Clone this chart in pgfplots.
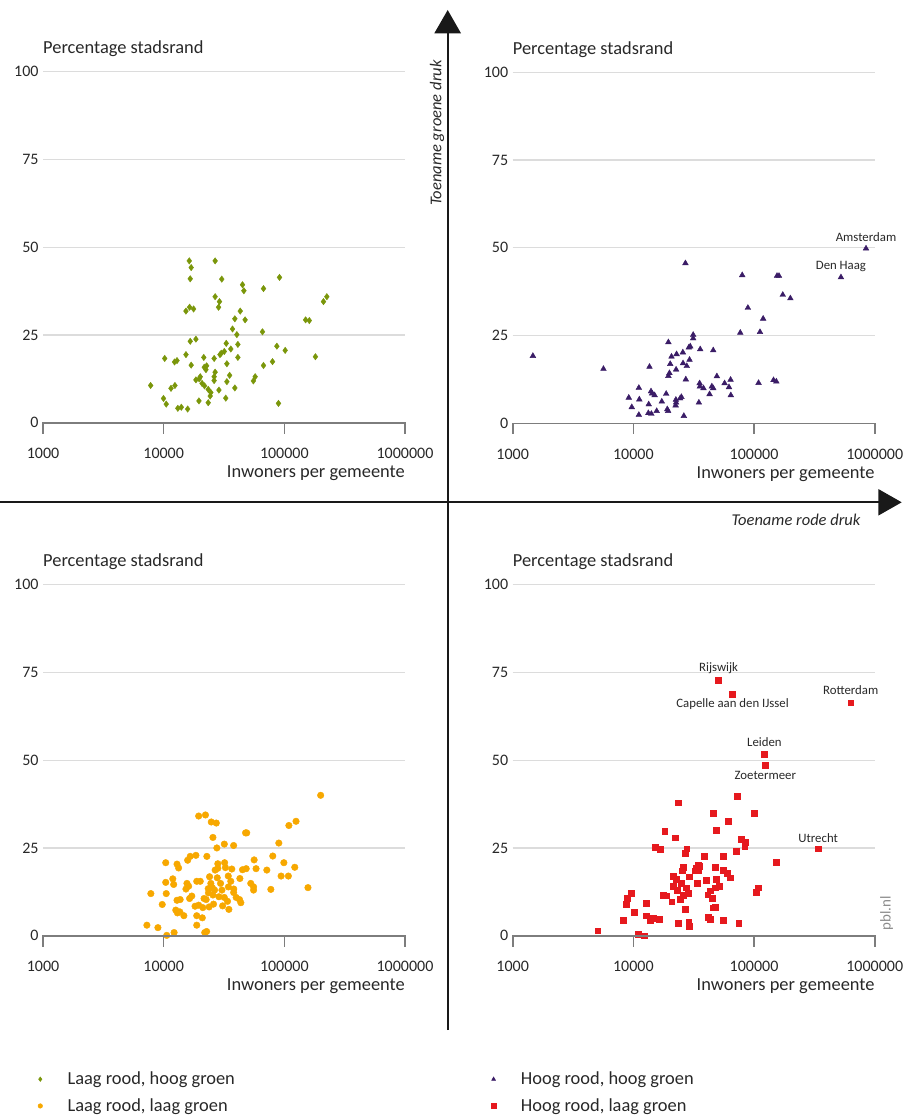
\documentclass[border=0pt]{standalone}
\usepackage{fontspec}
\setmainfont{Carlito}
\usepackage{pgfplots}
\usepackage{pgfplotstable}
\pgfplotsset{compat=1.18}
\definecolor{cgreen}{RGB}{122,150,10}
\definecolor{cpurple}{RGB}{58,28,102}
\definecolor{corange}{RGB}{247,168,0}
\definecolor{cred}{RGB}{230,25,30}
\definecolor{gridgray}{RGB}{220,220,220}
\definecolor{axisgray}{RGB}{125,125,125}
\definecolor{txt}{RGB}{40,40,40}

\pgfplotstableread{
x y
16300 46.1
16900 44.2
16600 41.0
26700 46.1
30300 40.9
91200 41.4
45000 39.3
46200 37.6
67200 38.2
26700 35.9
29000 34.5
28500 32.9
15300 31.8
16400 32.9
17700 32.4
43100 31.8
225000 35.9
211000 34.5
150000 29.3
161000 29.1
38900 29.6
47300 29.3
37200 26.7
40400 25.1
65900 25.9
16600 23.2
18500 23.8
33000 22.6
41200 22.3
36000 21.0
86700 21.8
101600 20.6
181000 18.8
79800 17.4
67200 16.3
10200 18.3
12300 17.3
12900 17.7
15300 19.4
16900 16.4
21500 18.6
30000 19.8
31800 20.3
29300 19.4
26200 18.3
41200 18.6
33400 16.8
21700 15.8
22400 15.1
22700 16.2
26700 14.4
26200 13.1
26200 12.0
35200 13.5
33400 11.7
20100 13.1
19700 12.5
18500 12.2
20800 11.2
21800 10.5
23400 9.5
24600 8.6
24300 7.6
28700 9.3
38900 9.9
32700 7.0
23400 5.7
19600 6.2
55400 11.9
57300 13.1
89400 5.5
7800 10.6
11500 9.8
12400 10.6
9970 6.9
10500 5.3
13100 4.1
14000 4.4
15800 3.9
}\dataTL

\pgfplotstableread{
x y
847000 49.8
525000 41.6
27000 45.6
79800 42.2
155000 42.0
161000 42.0
173000 36.6
200000 35.6
88900 32.9
119000 29.8
76900 25.8
112000 26.0
31300 25.2
31300 24.2
19500 23.1
28800 21.6
29600 21.9
35800 21.1
45900 20.8
1470 19.2
20700 19.0
22800 19.7
25700 20.2
29200 18.1
25800 17.1
27700 16.3
20200 16.9
13600 16.1
5650 15.5
22600 15.3
19900 14.3
19500 13.5
27200 12.5
49200 13.4
35400 11.4
35600 10.5
38100 10.0
44700 10.5
45900 10.0
57000 11.4
63900 12.4
62000 10.3
64200 8.0
109000 11.5
145000 12.3
153000 11.9
11100 10.1
9160 7.3
9700 4.6
11200 6.8
14000 9.1
14300 8.5
15000 8.0
13400 5.4
11100 2.4
13300 2.9
14100 2.7
15600 3.5
17200 6.2
18700 8.4
19100 4.0
19400 3.5
22500 6.7
22400 5.1
22600 5.9
24400 7.1
25000 7.5
26200 2.1
34900 5.9
42800 8.3
}\dataTR

\pgfplotstableread{
x y
200000 40.0
19500 34.1
22200 34.4
24800 32.4
27300 32.1
109000 31.4
125000 32.6
47700 29.3
48800 29.3
25600 28.0
27600 25.0
31800 26.1
38000 25.7
90000 26.4
10400 20.8
12900 20.4
13300 19.3
15800 21.5
16600 22.6
18500 22.9
22800 22.6
32000 20.8
28100 19.2
32500 19.4
36700 19.0
45000 18.8
48300 19.1
56200 21.6
58300 19.1
71600 18.7
80200 22.7
99100 20.8
122000 19.5
94000 17.0
108000 17.0
157000 13.7
77300 13.2
10400 15.2
11900 16.2
12100 14.6
10500 12.0
7830 12.0
9730 8.9
15600 14.9
16100 14.1
15300 13.3
18800 15.5
20100 15.5
24000 16.8
24600 14.9
25300 13.7
23400 13.4
23500 12.2
25600 11.6
27800 16.5
29600 14.9
30400 13.0
34300 17.0
36000 15.5
34400 13.9
38100 13.3
38000 12.3
42800 16.3
52700 14.9
55600 13.9
55600 13.0
39900 10.9
42500 10.3
43600 9.4
31800 10.9
33800 9.8
30800 8.5
34700 7.5
25900 9.0
23800 8.2
21100 8.0
19500 8.7
18200 8.4
22500 10.3
21600 10.6
17100 11.3
16400 10.6
13700 10.3
12900 10.1
12600 7.3
13000 6.5
13600 6.8
14700 5.7
18800 5.7
20900 5.1
18800 3.0
7260 3.0
8960 2.3
10600 0.1
12200 0.9
21900 0.9
22700 1.2
26700 18.7
28100 20.5
26400 13.0
28700 11.1
}\dataBL

\pgfplotstableread{
x y
50800 72.8
66400 68.8
632000 66.4
122000 51.6
124000 48.6
340000 24.8
72600 39.8
23500 37.9
46200 34.8
100500 35.0
61500 32.7
48300 30.0
18200 29.8
22200 27.9
15200 25.3
16800 24.6
27700 24.8
27000 23.4
77800 27.4
84500 26.7
83800 25.6
71100 24.1
153000 21.0
55200 22.7
38400 22.7
34700 20.1
33100 19.4
32300 18.5
26000 19.6
25200 18.5
21400 17.0
29200 16.8
33800 14.9
47700 19.6
55900 18.7
59600 17.9
63600 16.5
40200 15.8
48300 16.0
51800 14.1
47700 13.7
43400 12.8
41300 11.7
44700 10.6
47400 8.2
46200 8.0
43400 4.6
41800 5.2
55200 4.4
74500 3.5
108000 13.7
104000 12.3
21400 14.2
23200 13.0
25000 14.9
25800 11.6
27400 13.7
28300 12.2
24500 10.3
26900 7.5
28700 3.8
28900 2.6
23400 3.5
20800 9.7
17800 11.6
18900 11.4
9640 12.0
8830 10.6
8700 8.9
10100 6.8
8280 4.5
12700 9.2
12800 5.7
13800 4.5
14500 5.1
16400 4.8
11000 0.5
12300 0.0
5070 1.4
22500 16.0
34200 18.7
35300 19.8
}\dataBR

\newcommand\mainfs{\fontsize{18.4}{22}\selectfont}
\newcommand\tickfs{\fontsize{16}{19}\selectfont}
\newcommand\cityfs{\fontsize{12.8}{15}\selectfont}
% x axis base line and tick marks of one panel, #1 = left x, #2 = y of the zero line
\newcommand\baseaxis[2]{%
  \draw[axisgray, line width=1.6pt, line cap=rect] (#1,#2) -- ++(362pt,0pt);
  \draw[axisgray, line width=1.6pt] (#1,#2) -- ++(0pt,-11pt)
     ++(120.67pt,11pt) -- ++(0pt,-11pt)
     ++(120.67pt,11pt) -- ++(0pt,-11pt)
     ++(120.67pt,11pt) -- ++(0pt,-11pt);
}

\pgfplotsset{
  panel/.style={
    width=362pt, height=351pt, scale only axis,
    anchor=south west,
    xmin=1000, xmax=1000000, ymin=0, ymax=100,
    xtick={1000,10000,100000,1000000},
    xticklabels={1000,10000,100000,1000000},
    xminorticks=false,
    ytick={0,25,50,75,100},
    yticklabels={0,25,50,75,100},
    axis x line*=bottom, axis y line*=left,
    y axis line style={draw=none},
    x axis line style={draw=axisgray, line width=1.3pt},
    xtick align=outside, ytick align=inside,
    major tick length=10pt,
    xtick style={draw=axisgray, line width=1.3pt},
    ytick style={draw=none},
    ymajorgrids, grid style={draw=gridgray, line width=1.2pt},
    clip=false,
    tick label style={font=\tickfs, text=txt},
    xticklabel style={anchor=base, yshift=-26pt},
    yticklabel style={xshift=-1pt},
    title={Percentage stadsrand},
    title style={at={(0,1)}, anchor=base west, inner sep=0pt, yshift=12pt, font=\mainfs, text=txt},
    xlabel={Inwoners per gemeente},
    xlabel style={at={(1,0)}, anchor=base east, inner sep=0pt, yshift=-55pt, font=\mainfs, text=txt},
    legend style={draw=none, fill=none, inner sep=0pt, font=\mainfs, text=txt,
      row sep=10.5pt, column sep=24pt, nodes={inner sep=1pt}},
    legend cell align=left,
    legend image post style={mark size=2.3pt},
  },
  sgreen/.style={only marks, mark=diamond*, mark size=3.2pt, color=cgreen},
  spurple/.style={only marks, mark=triangle*, mark size=3.3pt, color=cpurple},
  sorange/.style={only marks, mark=*, mark size=3.3pt, color=corange},
  sred/.style={only marks, mark=square*, mark size=2.9pt, color=cred},
}

\begin{document}
\begin{tikzpicture}[font=\mainfs, text=txt]
\useasboundingbox (0,0) rectangle (909pt,-1118pt);

% top left
\begin{axis}[xmode=log, panel, at={(43pt,-422.7pt)}]
\addplot[sgreen] table {\dataTL};
\end{axis}

% top right
\begin{axis}[xmode=log, panel, at={(512.7pt,-423.3pt)}]
\addplot[spurple] table {\dataTR};
\node[font=\cityfs, text=txt, yshift=11pt] at (axis cs:847000,49.8) {Amsterdam};
\node[font=\cityfs, text=txt, yshift=11pt] at (axis cs:525000,41.6) {Den Haag};
\end{axis}

% bottom left
\begin{axis}[xmode=log, panel, at={(43pt,-935.7pt)},
  legend style={at={(axis description cs:-0.0144,-0.385)}, anchor=north west}]
\addlegendimage{sgreen}
\addlegendentry{Laag rood, hoog groen}
\addplot[sorange] table {\dataBL};
\addlegendentry{Laag rood, laag groen}
\end{axis}

% bottom right
\begin{axis}[xmode=log, panel, at={(512.7pt,-935.7pt)},
  legend style={at={(axis description cs:-0.0597,-0.385)}, anchor=north west}]
\addlegendimage{spurple}
\addlegendentry{Hoog rood, hoog groen}
\addplot[sred] table {\dataBR};
\addlegendentry{Hoog rood, laag groen}
\node[font=\cityfs, text=txt, yshift=12pt] at (axis cs:50800,72.8) {Rijswijk};
\node[font=\cityfs, text=txt, yshift=-10pt] at (axis cs:66400,68.8) {Capelle aan den IJssel};
\node[font=\cityfs, text=txt, yshift=12.5pt] at (axis cs:632000,66.4) {Rotterdam};
\node[font=\cityfs, text=txt, yshift=12.5pt] at (axis cs:122000,51.6) {Leiden};
\node[font=\cityfs, text=txt, yshift=-10pt] at (axis cs:124000,48.6) {Zoetermeer};
\node[font=\cityfs, text=txt, yshift=11pt] at (axis cs:340000,24.8) {Utrecht};
\end{axis}

% x axis lines with their tick marks
\baseaxis{43pt}{-422.7pt}
\baseaxis{512.7pt}{-423.3pt}
\baseaxis{43pt}{-935.7pt}
\baseaxis{512.7pt}{-935.7pt}

% central arrows
\draw[line width=2pt, color=black!90] (447.5pt,-1030pt) -- (447.5pt,-30pt);
\fill[black!90] (434.3pt,-33.3pt) -- (447.7pt,-10pt) -- (461pt,-33.3pt) -- cycle;
\draw[line width=2pt, color=black!90] (0pt,-502.3pt) -- (880pt,-502.3pt);
\fill[black!90] (878.3pt,-489pt) -- (901.7pt,-502.3pt) -- (878.3pt,-515.6pt) -- cycle;
\node[rotate=90, font=\itshape\fontsize{16.5}{20}\selectfont, text=txt] at (437pt,-133pt) {Toename groene druk};
\node[anchor=east, font=\itshape\fontsize{16.5}{20}\selectfont, text=txt] at (864pt,-520pt) {Toename rode druk};
\node[rotate=90, font=\fontsize{15}{18}\selectfont, text=black!45] at (886.7pt,-913.5pt) {pbl.nl};
\end{tikzpicture}
\end{document}
